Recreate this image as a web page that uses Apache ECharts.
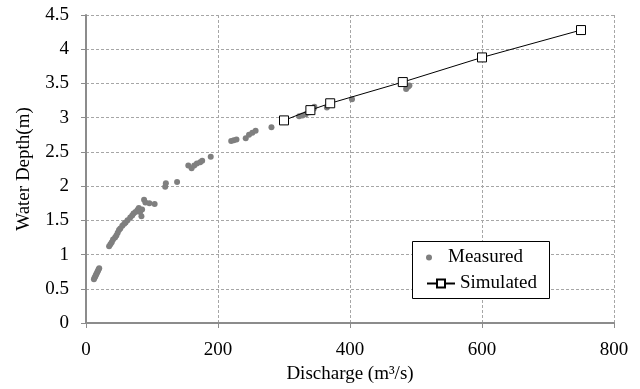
<!DOCTYPE html>
<html>
<head>
<meta charset="utf-8">
<script src="https://cdn.jsdelivr.net/npm/echarts@6/dist/echarts.min.js"></script>
<style>
  html, body { margin: 0; padding: 0; background: #fff; }
  #chart { width: 640px; height: 389px; }
</style>
</head>
<body>
<div id="chart"></div>
<script>
// measured discharge (m3/s) and water depth (m)
const measuredQ = [12, 13, 14, 15, 16, 17, 18, 19, 20,
  35, 37, 39, 41, 44, 46, 48, 50, 52, 55, 58, 60, 63, 67, 70, 72, 75, 78, 80, 82, 84, 85, 88, 90, 96, 104,
  120, 121, 138,
  155, 160, 164, 168, 173, 176, 189,
  220, 224, 228, 242, 247, 252, 257, 281,
  323, 328, 333, 339, 342, 345, 346, 365, 403,
  485, 488, 490];
const measuredH = [0.64, 0.66, 0.68, 0.70, 0.72, 0.74, 0.76, 0.78, 0.80,
  1.12, 1.15, 1.18, 1.22, 1.25, 1.28, 1.32, 1.36, 1.38, 1.42, 1.45, 1.47, 1.50, 1.54, 1.57, 1.60, 1.62, 1.65, 1.68, 1.62, 1.56, 1.66, 1.80, 1.76, 1.75, 1.74,
  1.99, 2.04, 2.06,
  2.30, 2.26, 2.30, 2.33, 2.35, 2.37, 2.43,
  2.66, 2.67, 2.68, 2.70, 2.75, 2.78, 2.81, 2.86,
  3.02, 3.03, 3.05, 3.08, 3.10, 3.13, 3.16, 3.15, 3.27,
  3.42, 3.45, 3.47];

// simulated rating curve
const simulatedQ = [300, 340, 370, 480, 600, 750];
const simulatedH = [2.96, 3.11, 3.21, 3.52, 3.88, 4.28];

const chart = echarts.init(document.getElementById('chart'));
const font = '"Liberation Serif", "Times New Roman", serif';
const axisGrey = '#8c8c8c';

const option = {
  animation: false,
  grid: { left: 86, top: 15, right: 26, bottom: 66, containLabel: false },
  xAxis: {
    type: 'value',
    min: 0, max: 800, interval: 200,
    name: 'Discharge (m³/s)',
    nameLocation: 'middle',
    nameGap: 38,
    nameTextStyle: { fontFamily: font, fontSize: 19, color: '#000' },
    axisLine: { show: true, onZero: false, lineStyle: { color: axisGrey, width: 2 } },
    axisTick: { show: true, length: 5, lineStyle: { color: axisGrey } },
    axisLabel: { fontFamily: font, fontSize: 19, color: '#000', margin: 18 },
    splitLine: { show: true, lineStyle: { color: '#a6a6a6', type: [3, 2], width: 1 } }
  },
  yAxis: {
    type: 'value',
    min: 0, max: 4.5, interval: 0.5,
    name: 'Water Depth(m)',
    nameLocation: 'middle',
    nameGap: 52,
    nameTextStyle: { fontFamily: font, fontSize: 19, color: '#000' },
    axisLine: { show: true, onZero: false, lineStyle: { color: axisGrey, width: 2 } },
    axisTick: { show: true, length: 5, lineStyle: { color: axisGrey } },
    axisLabel: { fontFamily: font, fontSize: 19, color: '#000', margin: 17 },
    splitLine: { show: true, lineStyle: { color: '#a6a6a6', type: [3, 2], width: 1 } }
  },
  graphic: [{
    type: 'rect',
    z: 3,
    shape: { x: 412.5, y: 241.5, width: 137, height: 57 },
    style: { fill: '#fff', stroke: '#000', lineWidth: 1 }
  }],
  legend: [{
    data: ['Measured'],
    left: 426, top: 248,
    padding: 0,
    itemWidth: 28, itemHeight: 6,
    textStyle: { fontFamily: font, fontSize: 19, color: '#000' },
    z: 5
  }, {
    data: ['Simulated'],
    left: 426, top: 274,
    padding: 0,
    itemWidth: 28, itemHeight: 10,
    textStyle: { fontFamily: font, fontSize: 19, color: '#000' },
    z: 5
  }],
  series: [{
    name: 'Measured',
    type: 'scatter',
    symbol: 'circle',
    symbolSize: 6,
    itemStyle: { color: '#7f7f7f', opacity: 1 },
    data: measuredQ.map((q, i) => [q, measuredH[i]])
  }, {
    name: 'Simulated',
    type: 'line',
    symbol: 'rect',
    symbolSize: 9,
    showAllSymbol: true,
    lineStyle: { color: '#000', width: 1 },
    itemStyle: { color: '#fff', borderColor: '#000', borderWidth: 1 },
    data: simulatedQ.map((q, i) => [q, simulatedH[i]]),
    z: 3
  }]
};

chart.setOption(option);
</script>
</body>
</html>
